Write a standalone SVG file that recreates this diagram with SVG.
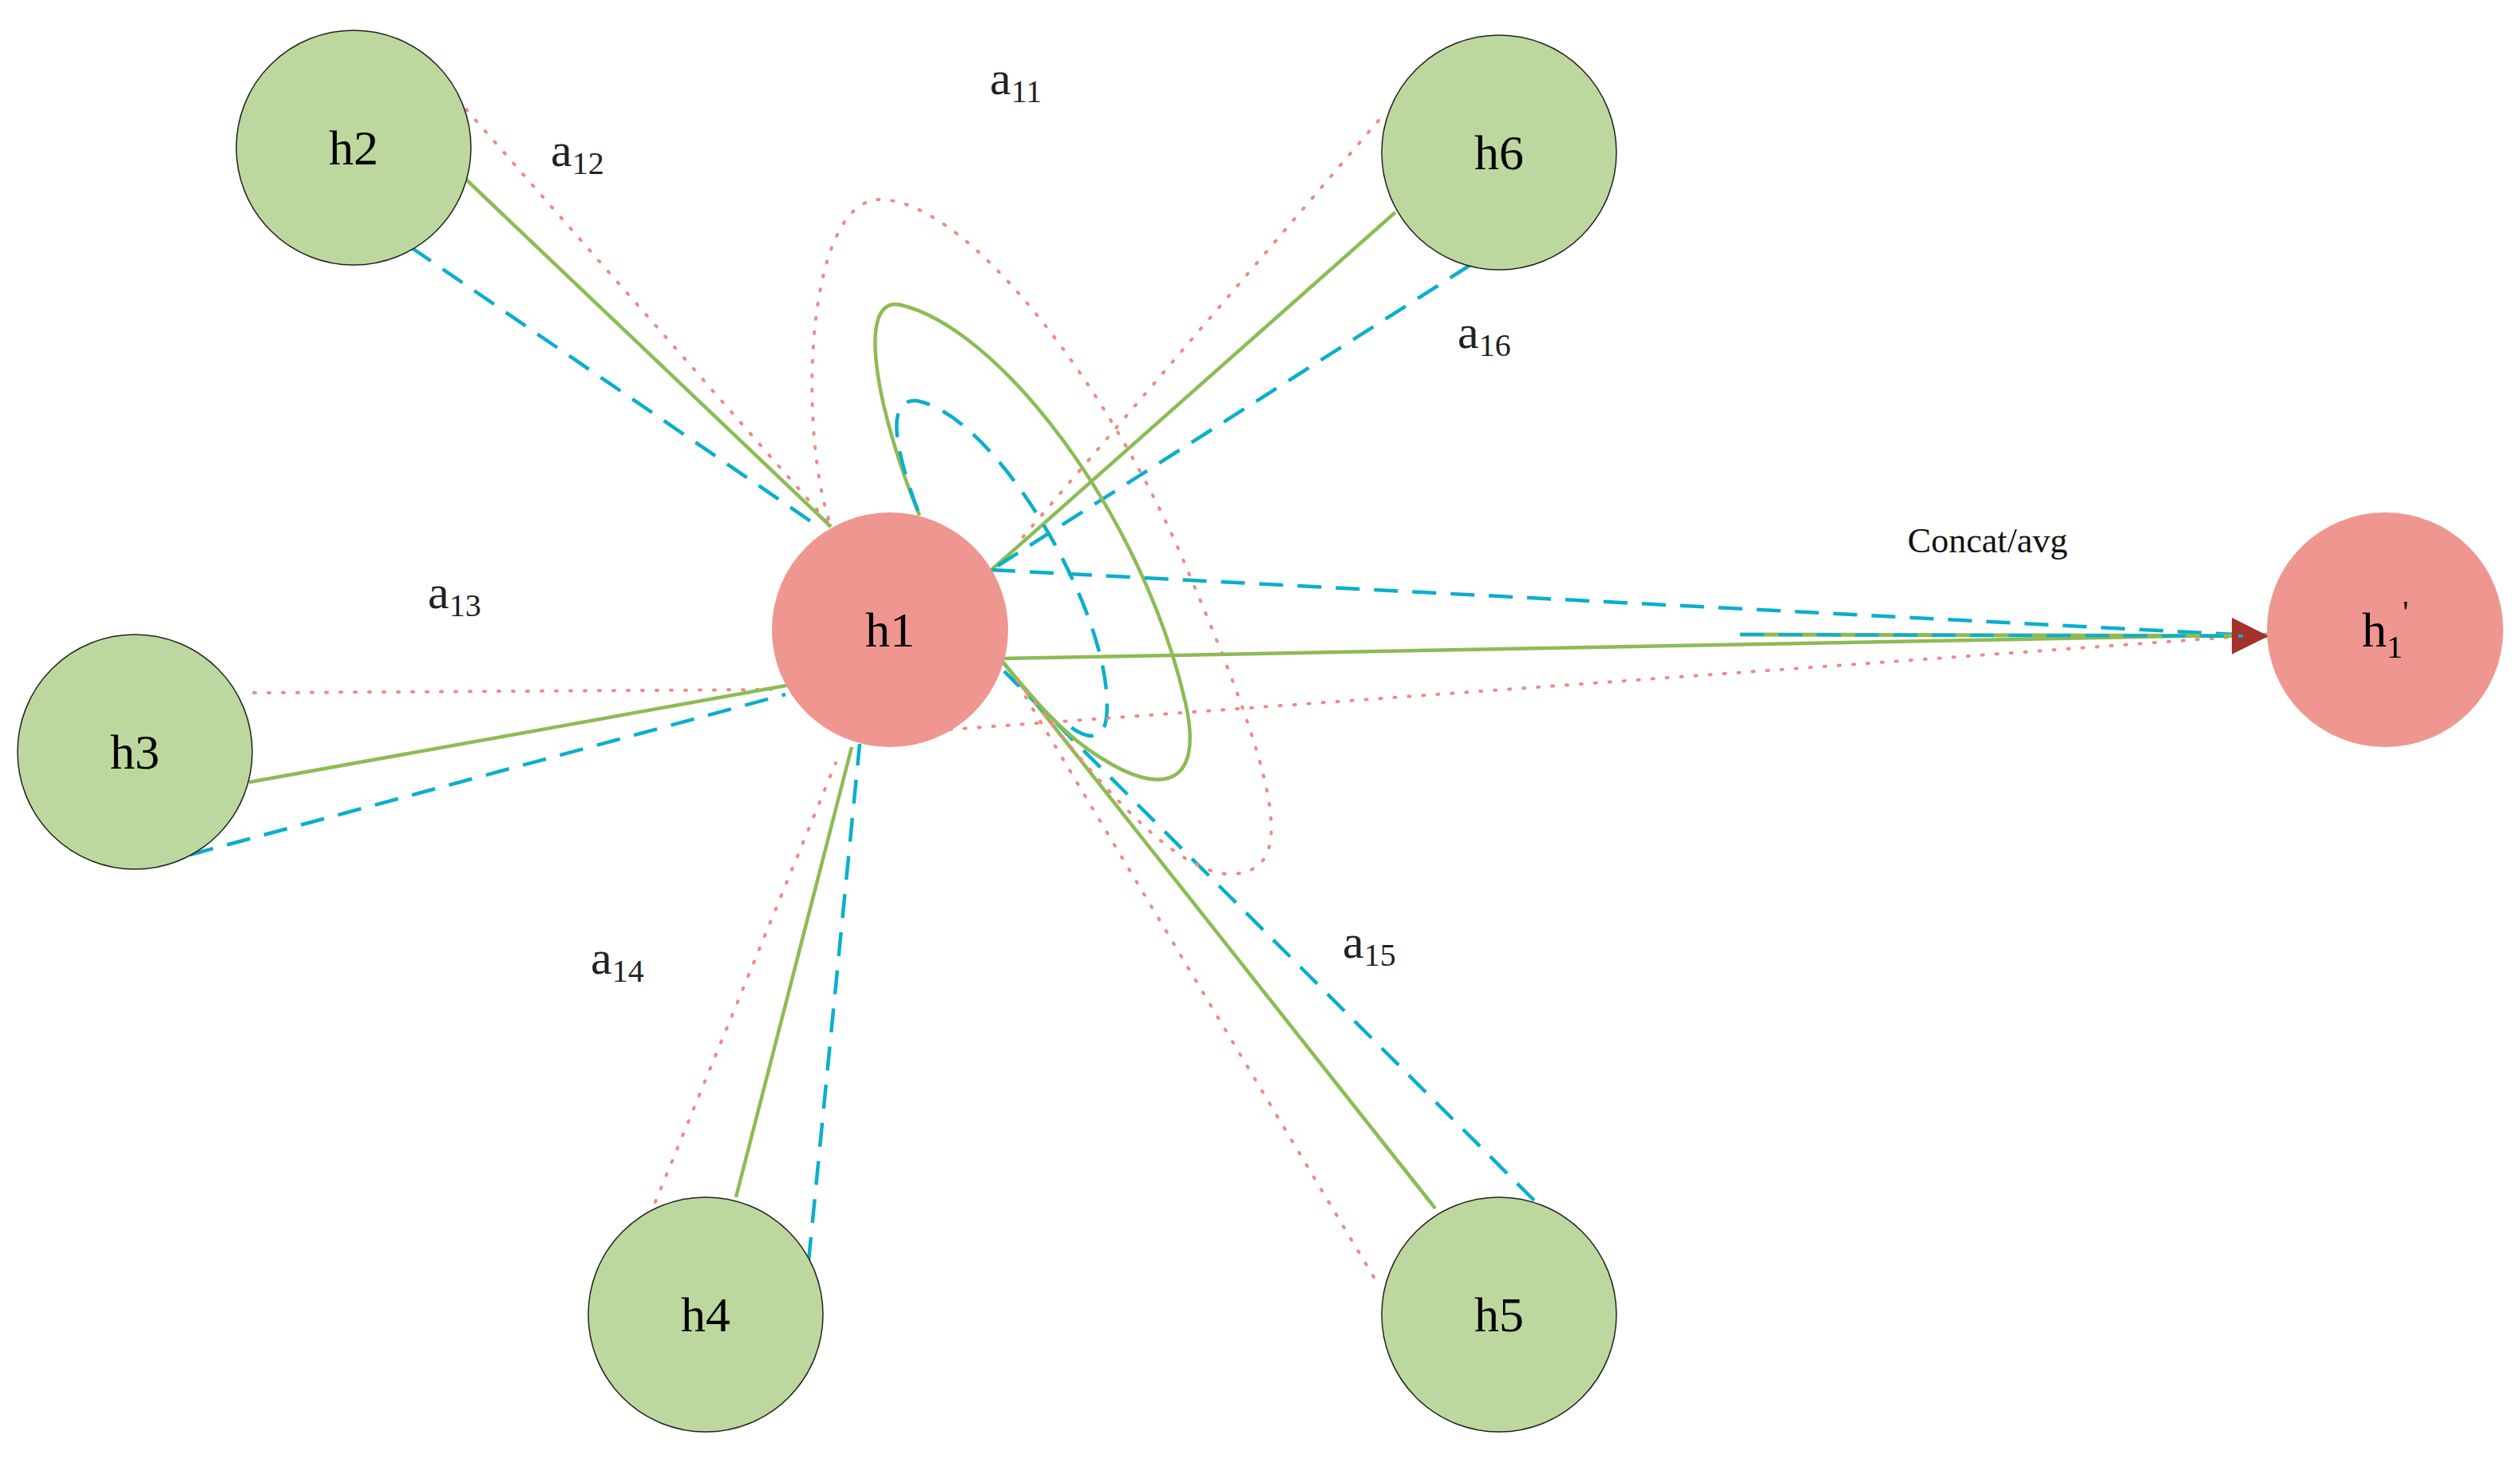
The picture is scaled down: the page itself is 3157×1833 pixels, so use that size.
<svg xmlns="http://www.w3.org/2000/svg" width="3157" height="1833" viewBox="0 0 3157 1833">
<style>
.g{fill:none;stroke:#8DBB55;stroke-width:4.5}
.b{fill:none;stroke:#0AAFCB;stroke-width:4.5;stroke-dasharray:30 18}
.r{fill:none;stroke:#EE8A82;stroke-width:4;stroke-dasharray:2 16;stroke-linecap:round}
.gn{fill:#BDD89E;stroke:#222;stroke-width:1.5}
.rn{fill:#EE968F}
.t{font-family:"Liberation Serif",serif;font-size:62px;fill:#000;text-anchor:middle}
.a{font-family:"Liberation Serif",serif;font-size:60px;fill:#222}
.s{font-size:40px}
</style>
<defs>
<marker id="ar" viewBox="0 0 10 10" refX="10" refY="5" markerWidth="10" markerHeight="10" markerUnits="userSpaceOnUse" orient="auto"><path d="M0,0L10,5L0,10z" fill="#A3332A"/></marker>
<marker id="arr" viewBox="0 0 10 10" refX="10" refY="5" markerWidth="46" markerHeight="46" markerUnits="userSpaceOnUse" orient="auto"><path d="M0,0L10,5L0,10z" fill="#A3332A"/></marker>
</defs>
<g id="connectors">
<line class="r" x1="584" y1="137" x2="1037" y2="654"/>
<line class="g" x1="584" y1="225" x2="1041" y2="660"/>
<line class="b" x1="515" y1="310" x2="1017" y2="654"/>
<line class="r" x1="1727" y1="151" x2="1272" y2="684"/>
<line class="g" x1="1748" y1="266" x2="1242" y2="714"/>
<line class="b" x1="1842" y1="332" x2="1242" y2="714"/>
<line class="r" x1="318" y1="868" x2="966" y2="864"/>
<line class="g" x1="312" y1="980" x2="990" y2="858"/>
<line class="b" x1="238" y1="1071" x2="984" y2="870"/>
<line class="r" x1="821" y1="1506" x2="1047" y2="956"/>
<line class="g" x1="922" y1="1500" x2="1067" y2="936"/>
<line class="b" x1="1013" y1="1580" x2="1077" y2="932"/>
<line class="r" x1="1721" y1="1600" x2="1268" y2="845"/>
<line class="g" x1="1798" y1="1514" x2="1256" y2="829"/>
<line class="b" x1="1922" y1="1504" x2="1258" y2="841"/>
<path class="g" d="M1152,646 C1100,520 1070,370 1128,382 C1250,410 1430,640 1485,880 C1510,990 1450,995 1380,950 C1330,920 1290,870 1256,829"/>
<path class="b" d="M1150,640 C1120,560 1110,500 1148,502 C1250,520 1400,780 1386,900 C1382,930 1360,925 1340,910"/>
<path class="r" d="M1038,650 C1000,530 1010,245 1105,250 C1220,255 1400,500 1490,720 C1610,1000 1620,1090 1545,1095 C1460,1100 1330,920 1268,845"/>
<line class="g" x1="1256" y1="825" x2="2840" y2="795"/>
<line class="b" x1="1242" y1="714" x2="2840" y2="797"/>
<line class="r" x1="1190" y1="914" x2="2840" y2="795"/>
<line x1="2180" y1="795" x2="2842" y2="797" stroke="#8DBB55" stroke-width="5" marker-end="url(#arr)"/>
<line x1="2180" y1="795" x2="2810" y2="797" stroke="#0AAFCB" stroke-width="4" stroke-dasharray="30 18"/>
</g>
<g id="h1"><ellipse class="rn" cx="1115" cy="789" rx="148" ry="147"/><text class="t" x="1115" y="810">h1</text></g>
<g id="h2"><circle class="gn" cx="443" cy="185" r="147"/><text class="t" x="443" y="206">h2</text></g>
<g id="h3"><circle class="gn" cx="169" cy="942" r="147"/><text class="t" x="169" y="963">h3</text></g>
<g id="h4"><circle class="gn" cx="884" cy="1647" r="147"/><text class="t" x="884" y="1668">h4</text></g>
<g id="h5"><circle class="gn" cx="1878" cy="1647" r="147" stroke="#9ABF70"/><text class="t" x="1878" y="1668">h5</text></g>
<g id="h6"><circle class="gn" cx="1878" cy="191" r="147"/><text class="t" x="1878" y="212">h6</text></g>
<g id="h1p"><ellipse class="rn" cx="2988" cy="789" rx="148" ry="147"/><text class="t" x="2988" y="810">h<tspan class="s" dy="14">1</tspan><tspan class="s" dy="-44">'</tspan></text></g>
<g id="labels">
<text class="a" x="1240" y="118">a<tspan class="s" dy="10">11</tspan></text>
<text class="a" x="690" y="208">a<tspan class="s" dy="10">12</tspan></text>
<text class="a" x="1826" y="436">a<tspan class="s" dy="10">16</tspan></text>
<text class="a" x="536" y="762">a<tspan class="s" dy="10">13</tspan></text>
<text class="a" x="740" y="1220">a<tspan class="s" dy="10">14</tspan></text>
<text class="a" x="1682" y="1200">a<tspan class="s" dy="10">15</tspan></text>
<text x="2490" y="692" font-family="'Liberation Serif',serif" font-size="44" fill="#111" text-anchor="middle">Concat/avg</text>
</g>
</svg>
